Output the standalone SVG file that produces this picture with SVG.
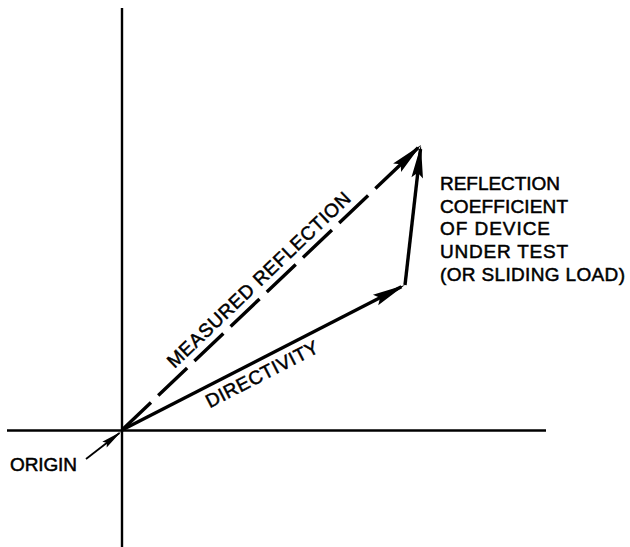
<svg xmlns="http://www.w3.org/2000/svg" width="630" height="547" viewBox="0 0 630 547">
  <style>
    .axis { stroke: #000; stroke-width: 2.4; fill: none; }
    .vec { stroke: #000; stroke-width: 3.4; fill: none; stroke-linecap: butt; }
    .dash { stroke-dasharray: 40 10; }
    .thin { stroke: #000; stroke-width: 1.8; fill: none; }
    .lbl { font-family: "Liberation Sans", Arial, sans-serif; font-size: 19px; fill: #000; stroke: #000; stroke-width: 0.5; }
  </style>
  <defs>
    <marker id="ah" markerUnits="userSpaceOnUse" viewBox="-32 -8 38 16" refX="0" refY="0" markerWidth="38" markerHeight="16" orient="auto">
      <path d="M4,0 L-29,-5.8 L-24,0 L-29,5.8 Z" fill="#000"/>
    </marker>
    <marker id="ahs" markerUnits="userSpaceOnUse" viewBox="-22 -6 26 12" refX="0" refY="0" markerWidth="26" markerHeight="12" orient="auto">
      <path d="M2,0 L-19,-3.6 L-16,0 L-19,3.6 Z" fill="#000"/>
    </marker>
  </defs>

  <g id="axes">
    <line class="axis" x1="122" y1="8" x2="122" y2="547"/>
    <line class="axis" x1="7" y1="430.5" x2="546" y2="430.5"/>
  </g>

  <g id="connectors">
    <line id="measured-reflection" class="vec dash" x1="122" y1="430" x2="418.1" y2="147.8" marker-end="url(#ah)"/>
    <line id="directivity" class="vec" x1="122" y1="430" x2="401.4" y2="286.8" marker-end="url(#ah)"/>
    <line id="reflection-coefficient" class="vec" x1="405" y1="285" x2="420.5" y2="149" marker-end="url(#ah)"/>
    <line id="origin-pointer" class="thin" x1="86" y1="459" x2="119.5" y2="433" marker-end="url(#ahs)"/>
  </g>

  <g id="label-measured" transform="translate(122,430) rotate(-43.6)">
    <text class="lbl" x="80" y="-8" textLength="245" lengthAdjust="spacing">MEASURED REFLECTION</text>
  </g>

  <g id="label-directivity" transform="translate(122,430) rotate(-27.1)">
    <text class="lbl" x="88" y="20.5" textLength="124" lengthAdjust="spacing">DIRECTIVITY</text>
  </g>

  <g id="label-coefficient">
    <text class="lbl" x="440" y="189.5" textLength="120" lengthAdjust="spacing">REFLECTION</text>
    <text class="lbl" x="440" y="212.5" textLength="128" lengthAdjust="spacing">COEFFICIENT</text>
    <text class="lbl" x="440" y="234.5" textLength="110" lengthAdjust="spacing">OF DEVICE</text>
    <text class="lbl" x="440" y="257.5" textLength="128" lengthAdjust="spacing">UNDER TEST</text>
    <text class="lbl" x="440" y="280.5" textLength="185" lengthAdjust="spacing">(OR SLIDING LOAD)</text>
  </g>

  <g id="label-origin">
    <text class="lbl" x="10" y="470.5" textLength="67" lengthAdjust="spacing">ORIGIN</text>
  </g>
</svg>
